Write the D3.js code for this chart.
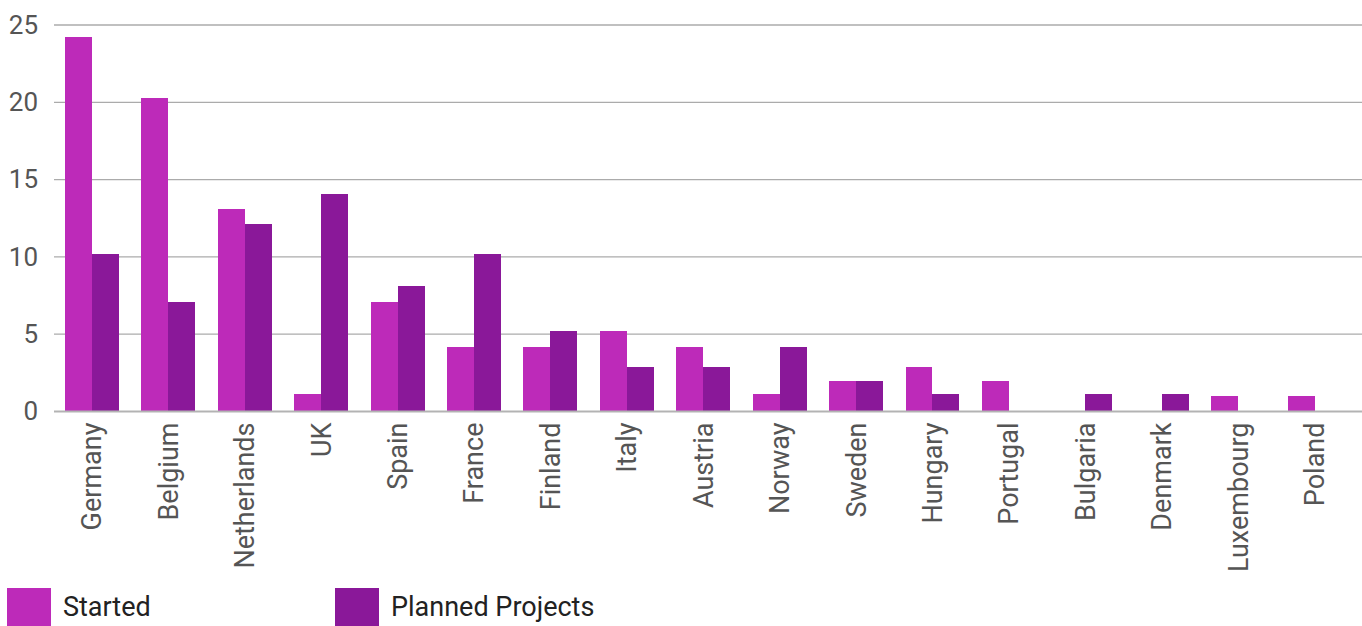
<!DOCTYPE html>
<html>
<head>
<meta charset="utf-8">
<script src="https://cdn.jsdelivr.net/npm/d3@7/dist/d3.min.js"></script>
<style>
  html, body { margin: 0; padding: 0; background: #fff; }
  svg { display: block; font-family: Roboto, "Noto Sans", sans-serif; }
</style>
</head>
<body>
<svg id="chart" width="1362" height="626"></svg>
<script>
// Projects per country
const countries = ["Germany", "Belgium", "Netherlands", "UK", "Spain", "France", "Finland", "Italy",
  "Austria", "Norway", "Sweden", "Hungary", "Portugal", "Bulgaria", "Denmark", "Luxembourg", "Poland"];
const started = [24.2, 20.3, 13.1, 1.1, 7.1, 4.2, 4.2, 5.2, 4.2, 1.1, 2, 2.9, 2, 0, 0, 1, 1];
const planned = [10.2, 7.1, 12.1, 14.1, 8.1, 10.2, 5.2, 2.9, 2.9, 4.2, 2, 1.1, 0, 1.1, 1.1, 0, 0];
const seriesNames = ["Started", "Planned Projects"];
const seriesColors = ["#bd2ab9", "#8a1899"];
const yTicks = [0, 5, 10, 15, 20, 25];

const svg = d3.select("#chart");
const plotLeft = 54, plotRight = 1362, plotTop = 25, plotBottom = 411.5;

// Category band spans the area left of the right edge
const x = d3.scaleBand().domain(countries).range([53.5, 1353])
  .paddingInner(0.294).paddingOuter(0.15);
const xs = d3.scaleBand().domain(seriesNames).range([0, x.bandwidth()]);
const y = d3.scaleLinear().domain([0, 25]).range([plotBottom, plotTop]);

// Horizontal gridlines
svg.append("g").selectAll("line").data(yTicks.filter(d => d > 0)).join("line")
  .attr("x1", plotLeft).attr("x2", plotRight)
  .attr("y1", d => y(d)).attr("y2", d => y(d))
  .attr("stroke", "#ababab").attr("stroke-width", 1.3);

// Y axis labels
const yAxis = d3.axisLeft(y).tickValues(yTicks).tickSize(0).tickPadding(0);
const ya = svg.append("g").attr("transform", "translate(38,0)").call(yAxis);
ya.select(".domain").remove();
ya.selectAll("text").attr("font-size", 26).attr("fill", "#555").attr("font-family", "Roboto");

// Bars
const rows = countries.map((c, i) => ({ country: c, values: [started[i], planned[i]] }));
const groups = svg.append("g").selectAll("g").data(rows).join("g")
  .attr("transform", d => `translate(${x(d.country)},0)`);
groups.selectAll("rect").data(d => d.values.map((v, k) => ({ key: seriesNames[k], v, k }))).join("rect")
  .attr("x", d => xs(d.key))
  .attr("width", xs.bandwidth())
  .attr("y", d => y(d.v))
  .attr("height", d => y(0) - y(d.v))
  .attr("fill", d => seriesColors[d.k])
  .attr("shape-rendering", "crispEdges");

// Baseline
svg.append("line").attr("x1", plotLeft).attr("x2", plotRight)
  .attr("y1", y(0)).attr("y2", y(0))
  .attr("stroke", "#b3b3b3").attr("stroke-width", 2);

// X axis labels, rotated
const xAxis = d3.axisBottom(x).tickSize(0).tickPadding(0);
const xa = svg.append("g").attr("transform", `translate(0,${plotBottom + 11})`).call(xAxis);
xa.select(".domain").remove();
xa.selectAll("text")
  .attr("font-size", 27).attr("fill", "#555").attr("font-family", "Roboto")
  .attr("text-anchor", "end").attr("dy", "0.35em").attr("y", 0).attr("x", 0)
  .attr("transform", "rotate(-90)");

// Legend
const legendX = [7, 335];
const lg = svg.append("g").selectAll("g").data(seriesNames).join("g")
  .attr("transform", (d, i) => `translate(${legendX[i]},588)`);
lg.append("rect").attr("width", 44).attr("height", 44).attr("fill", (d, i) => seriesColors[i]);
lg.append("text").attr("x", 56).attr("y", 19).attr("dy", "0.35em")
  .attr("font-size", 27).attr("fill", "#222").text(d => d);
</script>
</body>
</html>
